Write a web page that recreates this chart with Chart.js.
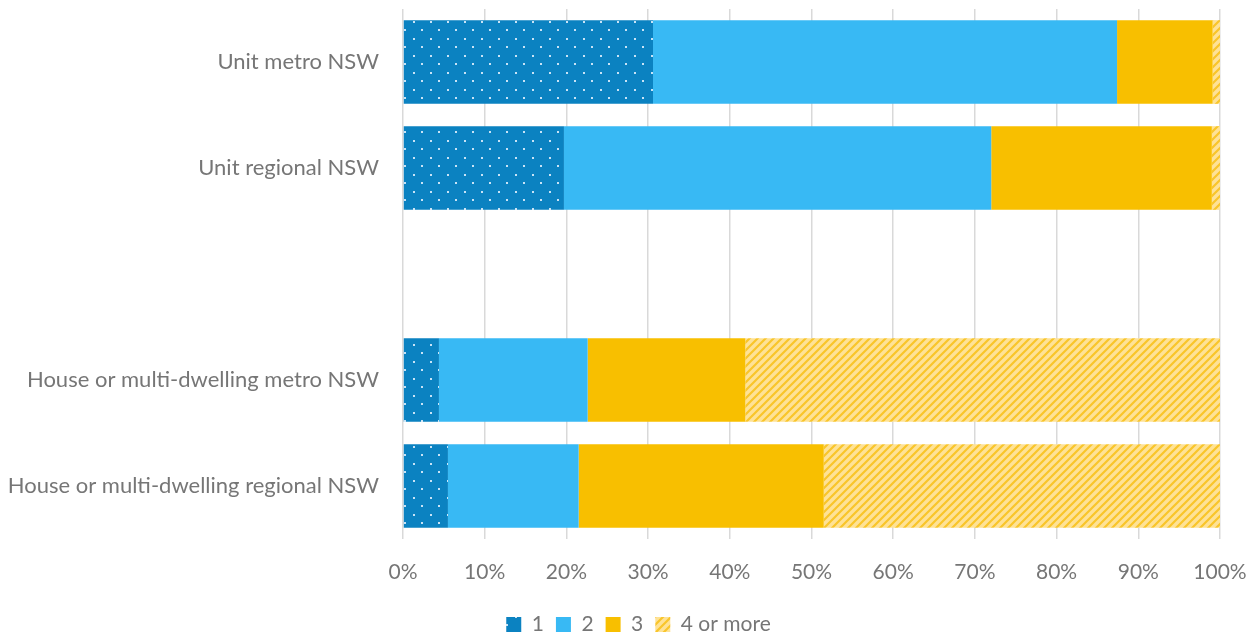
<!DOCTYPE html>
<html>
<head>
<meta charset="utf-8">
<script src="https://cdn.jsdelivr.net/npm/chart.js@4"></script>
<style>
  html, body { margin: 0; padding: 0; background: #fff; }
  #wrap { width: 1257px; height: 634px; }
</style>
</head>
<body>
<div id="wrap"><canvas id="occupants"></canvas></div>
<script>
// Share of dwellings by number of occupants (%)
const categories = [
  'Unit metro NSW',
  'Unit regional NSW',
  '',
  'House or multi-dwelling metro NSW',
  'House or multi-dwelling regional NSW'
];
const seriesNames = ['1', '2', '3', '4 or more'];
const one = [30.6, 19.7, null, 4.4, 5.5];
const two = [56.8, 52.3, null, 18.2, 16.0];
const three = [11.7, 27.0, null, 19.3, 30.0];
const fourPlus = [0.9, 1.0, null, 58.1, 48.5];
const tickValues = [0, 10, 20, 30, 40, 50, 60, 70, 80, 90, 100];

const colors = {
  blue: '#0b82c1',
  sky: '#38b9f4',
  gold: '#f8bf00',
  goldLight: '#fee296',
  goldStripe: '#f9c52a',
  text: '#767676',
  grid: '#d9d9d9'
};

// white dotted fill for the single-occupant series
function dotPattern() {
  const c = document.createElement('canvas');
  c.width = 17; c.height = 17;
  const g = c.getContext('2d');
  g.fillStyle = colors.blue;
  g.fillRect(0, 0, 17, 17);
  g.fillStyle = 'rgba(235,245,255,0.85)';
  g.fillRect(5, 4, 2, 2);
  g.fillRect(13, 12, 2, 2);
  return g.createPattern(c, 'repeat');
}

// upward diagonal stripes for the 4+ series
function stripePattern() {
  const c = document.createElement('canvas');
  c.width = 8; c.height = 8;
  const g = c.getContext('2d');
  g.fillStyle = colors.goldLight;
  g.fillRect(0, 0, 8, 8);
  g.strokeStyle = colors.goldStripe;
  g.lineWidth = 2.2;
  g.beginPath();
  g.moveTo(-2, 10); g.lineTo(10, -2);
  g.moveTo(-6, 6); g.lineTo(6, -6);
  g.moveTo(2, 14); g.lineTo(14, 2);
  g.stroke();
  return g.createPattern(c, 'repeat');
}

// nudge the legend a little right of the canvas centre
const legendShift = {
  id: 'legendShift',
  afterLayout(chart) {
    if (chart.legend) chart.legend.left += 20;
  }
};

Chart.defaults.font.family = "Lato, 'Open Sans', sans-serif";
Chart.defaults.color = colors.text;

const fills = [dotPattern(), colors.sky, colors.gold, stripePattern()];
const values = [one, two, three, fourPlus];

new Chart(document.getElementById('occupants').getContext('2d'), {
  type: 'bar',
  data: {
    labels: categories,
    datasets: seriesNames.map((name, i) => ({
      label: name,
      data: values[i],
      backgroundColor: fills[i],
      borderWidth: 0,
      barPercentage: 0.79,
      categoryPercentage: 1
    }))
  },
  plugins: [legendShift],
  options: {
    indexAxis: 'y',
    responsive: true,
    maintainAspectRatio: false,
    animation: false,
    // negative bottom padding pulls the legend closer to the canvas edge
    layout: { padding: { top: 9, right: 0, left: 0, bottom: -11 } },
    plugins: {
      legend: {
        position: 'bottom',
        labels: {
          boxWidth: 15,
          boxHeight: 15,
          padding: 12,
          font: { size: 21 },
          color: colors.text
        }
      },
      tooltip: { enabled: false }
    },
    scales: {
      x: {
        stacked: true,
        min: 0,
        max: 100,
        afterBuildTicks: s => { s.ticks = tickValues.map(v => ({ value: v })); },
        afterFit: s => {
          s.height = 63;
          s.paddingLeft = 0;
          s.paddingRight = 37;
        },
        grid: { color: colors.grid, lineWidth: 1.5, drawTicks: false },
        border: { display: false },
        ticks: {
          padding: 21,
          font: { size: 21 },
          callback: v => v + '%'
        }
      },
      y: {
        stacked: true,
        afterFit: s => {
          s.width = 403;
          s.paddingTop = 0;
          s.paddingBottom = 0;
        },
        grid: { display: false },
        border: { display: false },
        ticks: {
          padding: 16,
          font: { size: 22 }
        }
      }
    }
  }
});
</script>
</body>
</html>
